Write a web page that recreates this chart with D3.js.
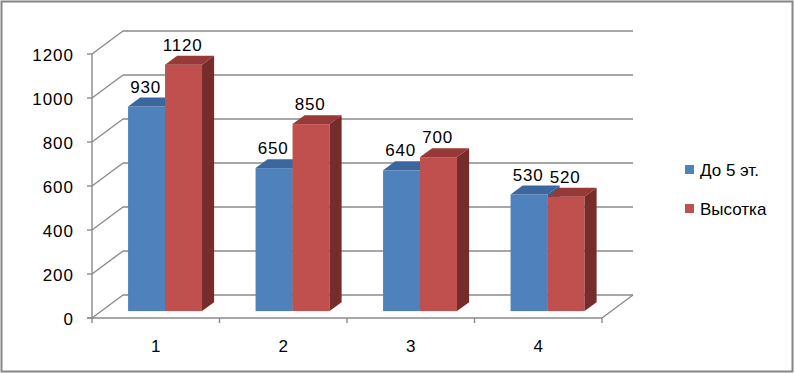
<!DOCTYPE html>
<html>
<head>
<meta charset="utf-8">
<script src="https://cdn.jsdelivr.net/npm/d3@7"></script>
<style>
  body { margin: 0; background: #fff; }
  text { font-family: "Liberation Sans", Arial, sans-serif; fill: #000; }
</style>
</head>
<body>
<svg id="chart" width="795" height="374"></svg>
<script>
// data
var categories = ["1", "2", "3", "4"];
var seriesNames = ["До 5 эт.", "Высотка"];
var lowRise  = [930, 650, 640, 530];
var highRise = [1120, 850, 700, 520];
var yTicks = [0, 200, 400, 600, 800, 1000, 1200];

var svg = d3.select("#chart");

// 3d floor depth (screen offset of back wall)
var DX = 31, DY = 23;
// bar sits between these depth fractions
var d0 = 0.3, d1 = 0.69;

var x = d3.scaleBand()
    .domain(categories)
    .range([92, 602])
    .paddingInner(0.42)
    .paddingOuter(0.21);
var xs = d3.scaleBand()
    .domain(seriesNames)
    .range([0, x.bandwidth()]);
var y = d3.scaleLinear()
    .domain([0, 1200])
    .range([318, 54]);

var gridColor = "#8a8a8a";
var colors = {
  "До 5 эт.": {front: "#4f81bd", top: "#3b679e", side: "#385d8a"},
  "Высотка":  {front: "#c0504d", top: "#973a37", side: "#772c2a"}
};

// outer frame
svg.append("rect")
    .attr("x", 1.5).attr("y", 1.5)
    .attr("width", 791).attr("height", 370)
    .style("fill", "none")
    .style("stroke", "#868686")
    .style("stroke-width", 2);

// walls: back wall gridlines + left wall diagonals
var walls = svg.append("g").attr("class", "walls")
    .style("stroke", gridColor)
    .style("stroke-width", 1.4)
    .style("fill", "none");

walls.selectAll("line.back")
    .data(yTicks)
  .enter().append("line")
    .attr("class", "back")
    .attr("x1", 92 + DX).attr("x2", 602 + DX)
    .attr("y1", d => y(d) - DY).attr("y2", d => y(d) - DY);

walls.selectAll("line.side")
    .data(yTicks)
  .enter().append("line")
    .attr("class", "side")
    .attr("x1", 92).attr("x2", 92 + DX)
    .attr("y1", d => y(d)).attr("y2", d => y(d) - DY);

// floor right edge
walls.append("line")
    .attr("x1", 602).attr("y1", y(0))
    .attr("x2", 602 + DX).attr("y2", y(0) - DY);

// bars
var groups = svg.selectAll("g.cat")
    .data(categories.map(function(c, i) {
      return {cat: c, values: [
        {name: seriesNames[0], value: lowRise[i]},
        {name: seriesNames[1], value: highRise[i]}
      ]};
    }))
  .enter().append("g")
    .attr("class", "cat");

var bw = xs.bandwidth();
var sdx = (d1 - d0) * DX, sdy = (d1 - d0) * DY;

groups.each(function(g) {
  var sel = d3.select(this);
  g.values.forEach(function(d) {
    var x0 = x(g.cat) + xs(d.name) + d0 * DX;
    var yb = y(0) - d0 * DY;
    var yt = y(d.value) - d0 * DY;
    var c = colors[d.name];
    sel.append("rect")
        .attr("x", x0).attr("y", yt)
        .attr("width", bw).attr("height", yb - yt)
        .style("fill", c.front);
    sel.append("polygon")
        .attr("points", [[x0, yt], [x0 + bw, yt], [x0 + bw + sdx, yt - sdy], [x0 + sdx, yt - sdy]].join(" "))
        .style("fill", c.top);
    sel.append("polygon")
        .attr("points", [[x0 + bw, yt], [x0 + bw + sdx, yt - sdy], [x0 + bw + sdx, yb - sdy], [x0 + bw, yb]].join(" "))
        .style("fill", c.side);
  });
});

// data labels
groups.each(function(g) {
  d3.select(this).selectAll("text.val")
      .data(g.values)
    .enter().append("text")
      .attr("class", "val")
      .attr("x", d => x(g.cat) + xs(d.name) + d0 * DX + bw / 2 - 1)
      .attr("y", d => y(d.value) - d0 * DY - 14)
      .attr("text-anchor", "middle")
      .style("font-size", "17px")
      .style("letter-spacing", "0.8px")
      .text(d => d.value);
});

// front axes
var axes = svg.append("g")
    .style("stroke", gridColor)
    .style("stroke-width", 1.4);
axes.append("line")
    .attr("x1", 92).attr("x2", 92)
    .attr("y1", y(0) + 1).attr("y2", y(1200));
axes.append("line")
    .attr("x1", 87).attr("x2", 602)
    .attr("y1", y(0)).attr("y2", y(0));
axes.selectAll("line.ytick")
    .data(yTicks)
  .enter().append("line")
    .attr("class", "ytick")
    .attr("x1", 87).attr("x2", 92)
    .attr("y1", d => y(d)).attr("y2", d => y(d));
axes.selectAll("line.xtick")
    .data(d3.range(categories.length + 1))
  .enter().append("line")
    .attr("class", "xtick")
    .attr("x1", i => 92 + i * x.step()).attr("x2", i => 92 + i * x.step())
    .attr("y1", y(0)).attr("y2", y(0) + 5);

// y labels
svg.selectAll("text.ylab")
    .data(yTicks)
  .enter().append("text")
    .attr("class", "ylab")
    .attr("x", 74)
    .attr("y", d => y(d) + 7)
    .attr("text-anchor", "end")
    .style("font-size", "17px")
    .style("letter-spacing", "1px")
    .text(d => d);

// x labels
svg.selectAll("text.xlab")
    .data(categories)
  .enter().append("text")
    .attr("class", "xlab")
    .attr("x", d => x(d) + x.bandwidth() / 2)
    .attr("y", 352)
    .attr("text-anchor", "middle")
    .style("font-size", "17px")
    .text(d => d);

// legend
var legend = svg.selectAll("g.legend")
    .data(seriesNames)
  .enter().append("g")
    .attr("class", "legend")
    .attr("transform", (d, i) => "translate(685," + (165 + i * 39) + ")");
legend.append("rect")
    .attr("width", 9).attr("height", 9)
    .style("fill", d => colors[d].front);
legend.append("text")
    .attr("x", 15).attr("y", 10.5)
    .style("font-size", "17px")
    .text(d => d);
</script>
</body>
</html>
